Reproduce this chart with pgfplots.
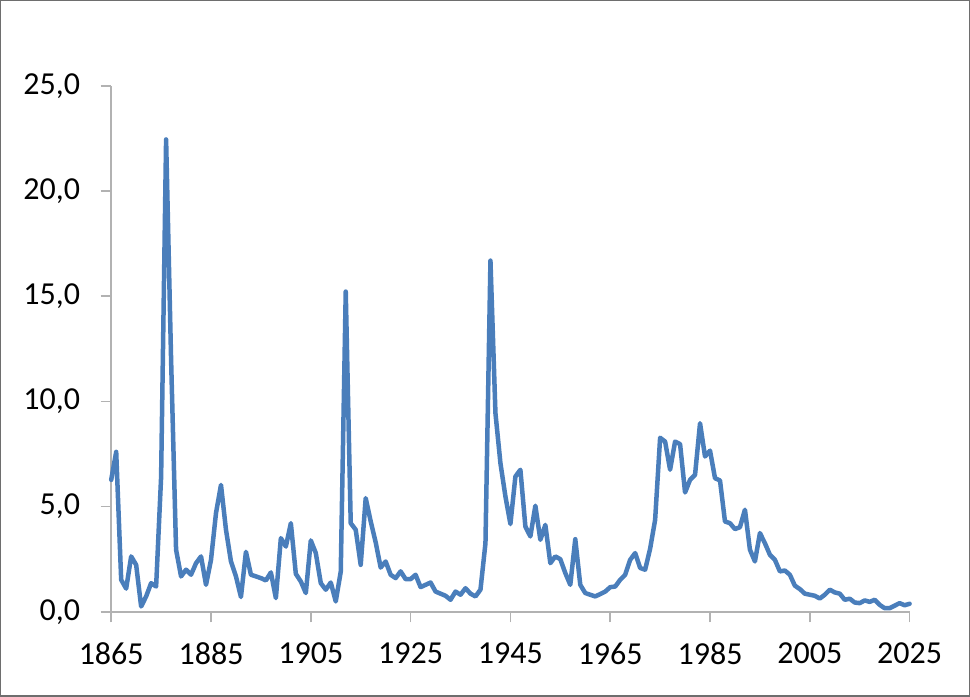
\documentclass[border=0pt]{standalone}
\usepackage{pgfplots}
\pgfplotsset{compat=1.18}
\usepackage{pgfplotstable}
\usepackage{fontspec}
\setmainfont{Carlito}
\definecolor{lineblue}{RGB}{74,126,187}
\definecolor{axgray}{RGB}{178,178,178}
\definecolor{framegray}{RGB}{110,110,110}
\pgfplotstableread{
year val
1865 6.27
1866 7.6
1867 1.52
1868 1.1
1869 2.63
1870 2.23
1871 0.25
1872 0.73
1873 1.36
1874 1.2
1875 6.4
1876 22.45
1877 12.0
1878 2.95
1879 1.68
1880 2.0
1881 1.76
1882 2.31
1883 2.63
1884 1.28
1885 2.47
1886 4.69
1887 6.03
1888 3.9
1889 2.39
1890 1.68
1891 0.7
1892 2.85
1893 1.76
1894 1.68
1895 1.6
1896 1.49
1897 1.87
1898 0.65
1899 3.5
1900 3.1
1901 4.21
1902 1.8
1903 1.44
1904 0.89
1905 3.39
1906 2.79
1907 1.36
1908 1.05
1909 1.39
1910 0.49
1911 1.91
1912 15.22
1913 4.21
1914 3.9
1915 2.23
1916 5.4
1917 4.3
1918 3.3
1919 2.1
1920 2.39
1921 1.76
1922 1.6
1923 1.92
1924 1.55
1925 1.55
1926 1.76
1927 1.17
1928 1.28
1929 1.39
1930 0.96
1931 0.86
1932 0.76
1933 0.57
1934 0.96
1935 0.81
1936 1.12
1937 0.86
1938 0.73
1939 1.05
1940 3.26
1941 16.69
1942 9.44
1943 7.06
1944 5.48
1945 4.17
1946 6.43
1947 6.75
1948 4.05
1949 3.58
1950 5.04
1951 3.42
1952 4.13
1953 2.31
1954 2.63
1955 2.5
1956 1.84
1957 1.28
1958 3.45
1959 1.28
1960 0.89
1961 0.81
1962 0.73
1963 0.84
1964 0.96
1965 1.17
1966 1.2
1967 1.52
1968 1.76
1969 2.47
1970 2.79
1971 2.08
1972 2.0
1973 3.0
1974 4.37
1975 8.27
1976 8.09
1977 6.75
1978 8.09
1979 7.97
1980 5.67
1981 6.27
1982 6.51
1983 8.96
1984 7.38
1985 7.66
1986 6.35
1987 6.24
1988 4.29
1989 4.21
1990 3.93
1991 4.02
1992 4.85
1993 2.95
1994 2.39
1995 3.74
1996 3.26
1997 2.71
1998 2.47
1999 1.92
2000 1.96
2001 1.76
2002 1.24
2003 1.08
2004 0.86
2005 0.81
2006 0.76
2007 0.63
2008 0.81
2009 1.05
2010 0.92
2011 0.86
2012 0.57
2013 0.62
2014 0.44
2015 0.41
2016 0.54
2017 0.47
2018 0.57
2019 0.33
2020 0.17
2021 0.17
2022 0.29
2023 0.41
2024 0.31
2025 0.38
}\datatable
\begin{document}
\begin{tikzpicture}
\draw[framegray, line width=1.5pt] (-110.4pt,-84.3pt) rectangle (857.6pt,610.7pt);
\begin{axis}[
  at={(0pt,0pt)}, anchor=south west,
  scale only axis,
  width=798pt, height=525.7pt,
  xmin=1865, xmax=2025,
  ymin=0, ymax=25,
  xtick={1865,1885,...,2025},
  ytick={0,5,...,25},
  axis x line*=bottom,
  axis y line*=left,
  axis line style={axgray, line width=1.5pt, -},
  tick style={axgray, line width=1.5pt},
  tick align=outside,
  major tick length=10.5pt,
  /pgf/number format/assume math mode=true,
  ticklabel style={font=\fontsize{32}{38}\selectfont, text=black},
  xticklabel style={inner sep=0pt, yshift=-20pt},
  yticklabel style={inner sep=0pt, xshift=-20.5pt},
  x tick label style={/pgf/number format/set thousands separator={}},
  y tick label style={/pgf/number format/fixed, /pgf/number format/fixed zerofill, /pgf/number format/precision=1, /pgf/number format/use comma},
  clip=false,
]
\addplot[lineblue, line width=4.5pt, line join=round, line cap=round] table[x=year, y=val] {\datatable};
\end{axis}
\end{tikzpicture}
\end{document}
